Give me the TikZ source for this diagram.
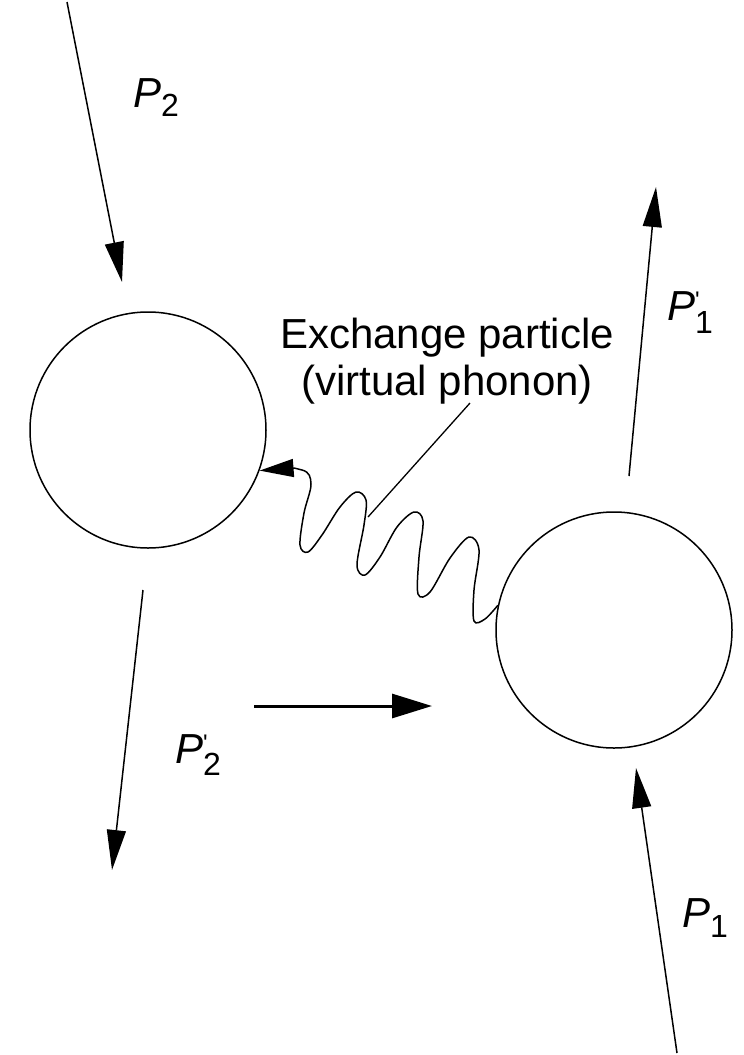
\documentclass[tikz,border=0pt]{standalone}
\usepackage{fontspec}
\setmainfont{Liberation Sans}
\usetikzlibrary{arrows.meta}
\newcommand\subsz{\fontsize{32}{32}\selectfont}
\newcommand\primemark{\rlap{\raisebox{12pt}{\fontsize{24}{24}\selectfont\textquotesingle}}}
\begin{document}
\begin{tikzpicture}[x=1pt,y=-1pt,
  ball/.style={circle, draw, line width=1.5pt, minimum size=236pt, inner sep=0pt},
  arr/.style={line width=1.5pt, -{Triangle[length=40pt,width=19pt]}},
  bigarr/.style={line width=3pt, -{Triangle[length=40pt,width=24pt]}},
  wave/.style={line width=1.5pt, {Triangle[length=34pt,width=18pt]}-},
  pointer/.style={line width=1.3pt},
  lbl/.style={font=\fontsize{42}{47}\selectfont, inner sep=0pt, align=center},
  plbl/.style={font=\fontsize{42}{42}\selectfont, inner sep=0pt, anchor=base west},
]
\useasboundingbox (0,0) rectangle (744,1055);
% particles
\node[ball] (L) at (148,430) {};
\node[ball] (R) at (614,630) {};
% arrow end points
\coordinate (p2s) at (67,2);
\coordinate (p2e) at (122,282);
\coordinate (q2s) at (143,590);
\coordinate (q2e) at (112,870);
\coordinate (p1s) at (677,1053);
\coordinate (p1e) at (636,768);
\coordinate (q1s) at (629,476);
\coordinate (q1e) at (656,187);
\coordinate (hs) at (254,706);
\coordinate (he) at (432,706);
\draw[arr] (p2s) -- (p2e);
\draw[arr] (q2s) -- (q2e);
\draw[arr] (p1s) -- (p1e);
\draw[arr] (q1s) -- (q1e);
\draw[bigarr] (hs) -- (he);
% exchange particle
\draw[wave] plot[smooth, tension=0.55] coordinates {(L.-20) (302,470) (311,484) (304,513) (300,545) (308,552) (322,535) (340,507) (356,492) (366,500) (364,525) (357,565) (365,575) (380,557) (397,527) (414,512) (423,521) (419,557) (418,594) (430,592) (450,558) (469,537) (479,550) (474,590) (474,621) (485,619) (R.168)};
% label
\node[lbl] (ex) at (447,361) {Exchange particle\\(virtual phonon)};
\coordinate (ptr) at (368,517);
\draw[pointer] (470,403) -- (ptr);
% momentum labels
\node[plbl] (P2) at (133,107) {\itshape P\upshape\raisebox{-9pt}{\subsz 2}};
\node[plbl] (P2p) at (175,763) {\itshape P\upshape\primemark\raisebox{-12pt}{\subsz 2}};
\node[plbl] (P1p) at (667,320) {\itshape P\upshape\primemark\raisebox{-13pt}{\subsz 1}};
\node[plbl] (P1) at (682,927) {\itshape P\upshape\raisebox{-10pt}{\subsz 1}};
\end{tikzpicture}
\end{document}
